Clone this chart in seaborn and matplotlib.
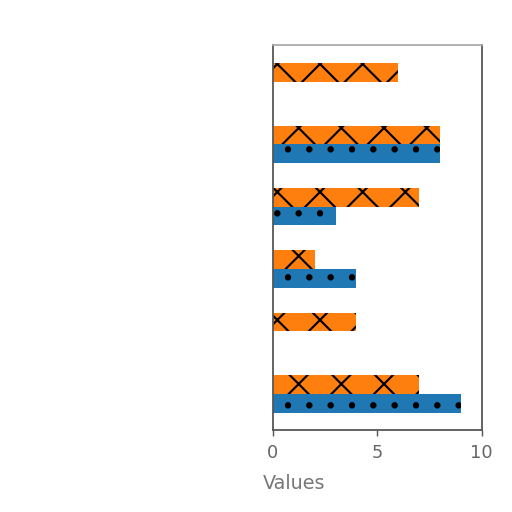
import numpy as np
import pandas as pd
import seaborn as sns
import matplotlib
matplotlib.use("Agg")
import matplotlib.pyplot as plt

# data, top category first
categories = ["A", "B", "C", "D", "E", "F"]
series_a = [6, 8, 7, 2, 4, 7]   # orange, cross hatch
series_b = [0, 8, 3, 4, 0, 9]   # blue, dotted
series_names = ["Series 2", "Series 1"]
xticks = [0, 5, 10]

df = pd.DataFrame({
    "category": categories * 2,
    "value": series_a + series_b,
    "series": [series_names[0]] * 6 + [series_names[1]] * 6,
})

sns.set_style("white")
# render at high dpi so the hatch spacing matches; scale sizes down to suit
plt.rcParams["font.family"] = ["DejaVu Sans"]
plt.rcParams["font.size"] = 5
plt.rcParams["hatch.linewidth"] = 0.6
plt.rcParams["xtick.major.size"] = 1.75
plt.rcParams["xtick.major.width"] = 0.4
plt.rcParams["xtick.major.pad"] = 2.2

fig = plt.figure(figsize=(2, 2), dpi=256)
ax = fig.add_axes([0.533, 0.160, 0.408, 0.752])

palette = {series_names[0]: "#ff7f0e", series_names[1]: "#1f77b4"}
sns.barplot(data=df, y="category", x="value", hue="series",
            hue_order=series_names, palette=palette, orient="h",
            width=0.6, saturation=1, edgecolor="black", linewidth=0,
            legend=False, ax=ax)

hatches = {series_names[0]: "xx", series_names[1]: ".."}
for cont, name in zip(ax.containers, series_names):
    for bar in cont:
        bar.set_hatch(hatches[name])

ax.set_xlim(0, 10)
ax.set_ylim(5.58, -0.59)
ax.set_xticks(xticks)
ax.set_yticks([])
ax.set_ylabel("")
ax.tick_params(axis="x", bottom=True, colors="#555555", labelcolor="#666666")
ax.set_xlabel("Values", color="#777777", loc="left", fontsize=5.4)
ax.xaxis.set_label_coords(-0.05, -0.115)
for side in ["left", "bottom", "right", "top"]:
    ax.spines[side].set_color("#555555")
    ax.spines[side].set_linewidth(0.5)
ax.spines["top"].set_color("#aaaaaa")

fig.savefig("out.png", dpi=256)
